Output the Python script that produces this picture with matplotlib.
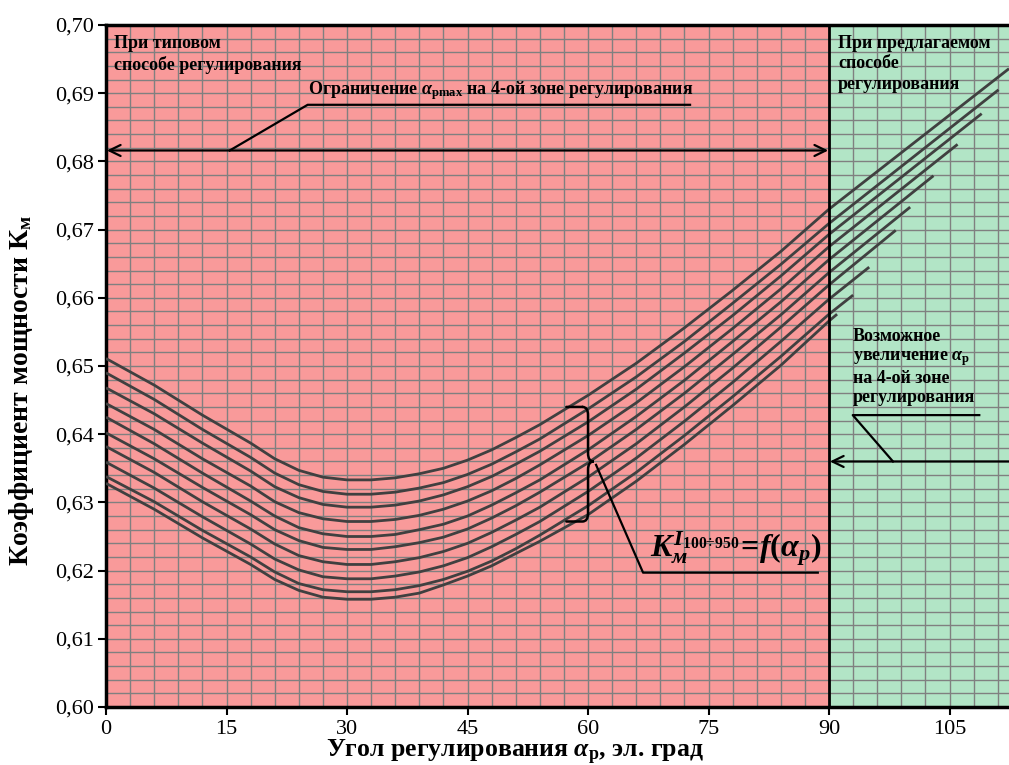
import numpy as np
import matplotlib
matplotlib.use("Agg")
import matplotlib.pyplot as plt
from matplotlib.path import Path
from matplotlib.patches import PathPatch
from matplotlib.ticker import FixedLocator, FuncFormatter

plt.rcParams['font.family'] = ['Liberation Serif', 'DejaVu Serif']
plt.rcParams['mathtext.fontset'] = 'custom'
plt.rcParams['mathtext.rm'] = 'Liberation Serif:bold'
plt.rcParams['mathtext.it'] = 'Liberation Serif:italic:bold'
plt.rcParams['mathtext.bf'] = 'Liberation Serif:bold'

# угол регулирования, эл. град (общая сетка до 90)
alpha = [0, 6, 12, 18, 21, 24, 27, 30, 33, 36, 39, 42, 45, 48, 51, 54, 60, 66, 72, 78, 84, 90]

# коэффициент мощности для токов 100...950 (сверху вниз)
km_1 = [0.6511, 0.6472, 0.6428, 0.6387, 0.6364, 0.6347, 0.6337, 0.6333, 0.6333, 0.6336, 0.6342,
        0.6350, 0.6362, 0.6377, 0.6395, 0.6414, 0.6457, 0.6504, 0.6556, 0.6611, 0.6668, 0.6730]
km_2 = [0.6490, 0.6451, 0.6407, 0.6366, 0.6343, 0.6326, 0.6316, 0.6312, 0.6312, 0.6315, 0.6321,
        0.6329, 0.6341, 0.6356, 0.6374, 0.6393, 0.6437, 0.6484, 0.6536, 0.6592, 0.6649, 0.6709]
km_3 = [0.6468, 0.6430, 0.6387, 0.6346, 0.6323, 0.6307, 0.6297, 0.6293, 0.6293, 0.6296, 0.6302,
        0.6311, 0.6323, 0.6338, 0.6356, 0.6375, 0.6418, 0.6466, 0.6519, 0.6574, 0.6632, 0.6693]
km_4 = [0.6445, 0.6407, 0.6364, 0.6324, 0.6301, 0.6285, 0.6276, 0.6272, 0.6272, 0.6275, 0.6281,
        0.6290, 0.6302, 0.6317, 0.6335, 0.6355, 0.6398, 0.6446, 0.6499, 0.6555, 0.6613, 0.6675]
km_5 = [0.6425, 0.6386, 0.6343, 0.6302, 0.6280, 0.6263, 0.6254, 0.6250, 0.6250, 0.6253, 0.6260,
        0.6268, 0.6280, 0.6296, 0.6314, 0.6333, 0.6377, 0.6426, 0.6479, 0.6536, 0.6594, 0.6656]
km_6 = [0.6402, 0.6364, 0.6322, 0.6282, 0.6260, 0.6244, 0.6234, 0.6231, 0.6231, 0.6235, 0.6241,
        0.6249, 0.6261, 0.6277, 0.6295, 0.6315, 0.6358, 0.6407, 0.6460, 0.6517, 0.6575, 0.6637]
km_7 = [0.6382, 0.6344, 0.6301, 0.6261, 0.6239, 0.6222, 0.6213, 0.6209, 0.6209, 0.6213, 0.6219,
        0.6228, 0.6240, 0.6256, 0.6274, 0.6293, 0.6337, 0.6386, 0.6440, 0.6497, 0.6557, 0.6619]
km_8 = [0.6359, 0.6321, 0.6279, 0.6239, 0.6217, 0.6201, 0.6191, 0.6188, 0.6188, 0.6192, 0.6198,
        0.6207, 0.6219, 0.6235, 0.6253, 0.6272, 0.6316, 0.6365, 0.6419, 0.6476, 0.6536, 0.6598]
km_9 = [0.6338, 0.6301, 0.6259, 0.6220, 0.6198, 0.6181, 0.6172, 0.6169, 0.6169, 0.6172, 0.6178,
        0.6187, 0.6199, 0.6214, 0.6232, 0.6252, 0.6295, 0.6344, 0.6398, 0.6455, 0.6514, 0.6576]
km_10 = [0.6328, 0.6290, 0.6248, 0.6209, 0.6187, 0.6171, 0.6161, 0.6158, 0.6158, 0.6161, 0.6167,
         0.6179, 0.6192, 0.6207, 0.6225, 0.6243, 0.6282, 0.6331, 0.6385, 0.6442, 0.6501, 0.6566]

# конечные точки кривых за 90 эл. град
alpha_end = [112.4, 111.1, 109.0, 106.0, 103.0, 100.1, 98.3, 95.0, 93.0, 91.0]
km_end = [0.6936, 0.6905, 0.6870, 0.6825, 0.6779, 0.6733, 0.6699, 0.6645, 0.6604, 0.6576]

curves = [km_1, km_2, km_3, km_4, km_5, km_6, km_7, km_8, km_9, km_10]

x_ticks = [0, 15, 30, 45, 60, 75, 90, 105]
y_ticks = [0.60, 0.61, 0.62, 0.63, 0.64, 0.65, 0.66, 0.67, 0.68, 0.69, 0.70]

x_max = 112.4
red = '#F99A9A'
green = '#B2E5C6'

fig = plt.figure(figsize=(10.09, 7.65), dpi=100)
ax = fig.add_axes([106 / 1009, 58 / 765, 903 / 1009, 682 / 765])

ax.axvspan(0, 90, color=red, zorder=0, lw=0)
ax.axvspan(90, x_max, color=green, zorder=0, lw=0)

for km, a_end, k_end in zip(curves, alpha_end, km_end):
    ax.plot(alpha + [a_end], km + [k_end], color='#404040', lw=2.0, zorder=3,
            solid_joinstyle='round', solid_capstyle='butt')

ax.set_xlim(0, x_max)
ax.set_ylim(0.60, 0.70)
ax.xaxis.set_major_locator(FixedLocator(x_ticks))
ax.yaxis.set_major_locator(FixedLocator(y_ticks))
ax.xaxis.set_minor_locator(FixedLocator(np.arange(0, 115, 3)))
ax.yaxis.set_minor_locator(FixedLocator(np.arange(0.60, 0.7001, 0.002)))
ax.yaxis.set_major_formatter(FuncFormatter(lambda v, p: f'{v:.2f}'.replace('.', ',')))
ax.grid(which='both', color='#808080', lw=1.0)
ax.set_axisbelow(True)
ax.tick_params(which='major', direction='out', length=6, width=1.5, labelsize=16, pad=3)
ax.tick_params(which='minor', length=0)

for side in ['left', 'top', 'bottom']:
    ax.spines[side].set_linewidth(2.5)
ax.spines['right'].set_visible(False)
ax.axvline(90, color='black', lw=2.0, zorder=4)

txt = dict(fontsize=13, fontweight='bold', color='black', zorder=6)

ax.text(1.0, 0.6985, 'При типовом\nспособе регулирования', va='top', ha='left',
        linespacing=1.25, **txt)
ax.text(91.1, 0.6985, 'При предлагаемом\nспособе\nрегулирования', va='top', ha='left',
        linespacing=1.25, **txt)
ax.text(25.1, 0.6899, r'Ограничение $\alpha_{\mathrm{pmax}}$ на 4-ой зоне регулирования',
        va='baseline', ha='left', **txt)
ax.text(92.95, 0.6555, 'Возможное\nувеличение $\\alpha_{\\mathrm{р}}$\nна 4-ой зоне\nрегулирования',
        va='top', ha='left', linespacing=1.15, **txt)

# линии-выноски и стрелки
lk = dict(color='black', lw=1.6, zorder=5)
ax.plot([15.4, 25.1, 72.7], [0.6816, 0.6883, 0.6883], **lk)
ax.annotate('', xy=(0.1, 0.6816), xytext=(89.9, 0.6816),
            arrowprops=dict(arrowstyle='<->,head_length=0.45,head_width=0.22', lw=1.6,
                            color='black', shrinkA=0, shrinkB=0, mutation_scale=18), zorder=5)
ax.plot([97.96, 92.95, 108.7], [0.6360, 0.6428, 0.6428], **lk)
ax.annotate('', xy=(90.1, 0.6360), xytext=(x_max, 0.6360),
            arrowprops=dict(arrowstyle='->,head_length=0.45,head_width=0.22', lw=1.6,
                            color='black', shrinkA=0, shrinkB=0, mutation_scale=18), zorder=5)

# фигурная скобка
verts = [(57.3, 0.6440), (59.3, 0.6440), (59.3, 0.6440), (60.0, 0.6440), (60.0, 0.6428),
         (60.0, 0.6372), (60.0, 0.6360), (60.7, 0.6360),
         (60.0, 0.6360), (60.0, 0.6348), (60.0, 0.6284), (60.0, 0.6272), (59.3, 0.6272),
         (57.3, 0.6272)]
codes = [Path.MOVETO, Path.LINETO, Path.MOVETO, Path.CURVE3, Path.CURVE3,
         Path.LINETO, Path.CURVE3, Path.CURVE3,
         Path.CURVE3, Path.CURVE3, Path.LINETO, Path.CURVE3, Path.CURVE3,
         Path.LINETO]
ax.add_patch(PathPatch(Path(verts, codes), fill=False, lw=1.8, ec='black', zorder=5,
                       capstyle='round'))
ax.plot([61.0, 66.85, 88.6], [0.6355, 0.6197, 0.6197], **lk)

ax.text(67.7, 0.6221, r'$K_{м}^{I_{\mathit{100÷950}}}\!=\!f(\alpha_p)$', fontsize=23,
        ha='left', va='baseline', zorder=6)

fig.text(515 / 1009, 1 - 757 / 765, r'Угол регулирования $\alpha_{\mathrm{р}}$, эл. град',
         ha='center', va='baseline', fontsize=18.5, fontweight='bold')
fig.text(22 / 1009, 1 - 390 / 765, r'Коэффициент мощности К$_{\mathrm{м}}$',
         ha='center', va='center', rotation=90, fontsize=20, fontweight='bold')

fig.savefig('out.png', dpi=100)
